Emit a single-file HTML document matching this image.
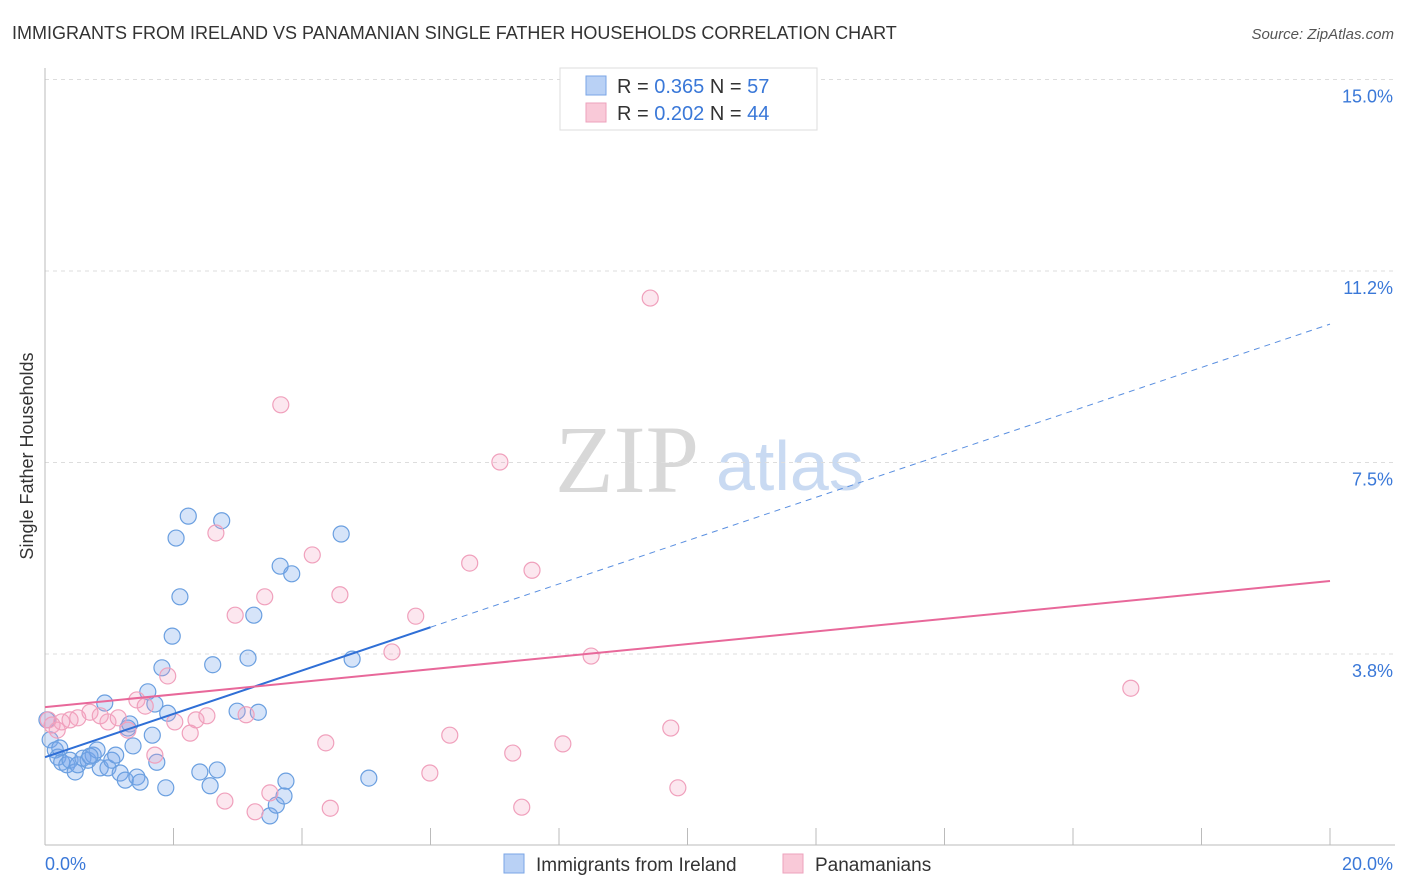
<!DOCTYPE html>
<html><head><meta charset="utf-8"><style>
body{margin:0;background:#fff;font-family:"Liberation Sans",sans-serif;}
svg{display:block}
</style></head><body>
<svg id="chart" width="1406" height="892">
<text x="12" y="39" font-size="18" fill="#333">IMMIGRANTS FROM IRELAND VS PANAMANIAN SINGLE FATHER HOUSEHOLDS CORRELATION CHART</text>
<text x="1394" y="39" font-size="15" fill="#555" font-style="italic" text-anchor="end">Source: ZipAtlas.com</text>
<text x="33" y="456" font-size="18" fill="#333" text-anchor="middle" transform="rotate(-90 33 456)">Single Father Households</text>
<text x="555" y="492" font-size="96" fill="#d8d8d8" font-family="Liberation Serif,serif">ZIP</text>
<text x="716" y="490" font-size="70" fill="#c9daf2">atlas</text>
<g id="grid"></g><g id="axes"></g><g id="pts"></g><g id="lines"></g>
<g>
<rect x="560" y="68" width="257" height="62" fill="#fff" stroke="#ddd"/>
<rect x="586" y="76" width="20" height="19" fill="#b9d1f5" stroke="#7aa5e6"/>
<text x="617" y="93" font-size="20" fill="#333">R = <tspan fill="#3a78d8">0.365</tspan>   N = <tspan fill="#3a78d8">57</tspan></text>
<rect x="586" y="103" width="20" height="19" fill="#f9c9d8" stroke="#eda2bc"/>
<text x="617" y="120" font-size="20" fill="#333">R = <tspan fill="#3a78d8">0.202</tspan>   N = <tspan fill="#3a78d8">44</tspan></text>
</g>
<g>
<rect x="504" y="854" width="20" height="19" fill="#b9d1f5" stroke="#7aa5e6"/>
<text x="536" y="871" font-size="19" fill="#333">Immigrants from Ireland</text>
<rect x="783" y="854" width="20" height="19" fill="#f9c9d8" stroke="#eda2bc"/>
<text x="815" y="871" font-size="19" fill="#333">Panamanians</text>
</g>
</svg>
<script>
const yTicks=[3.75,7.5,11.25,15];
const yTickLabels=["3.8%","7.5%","11.2%","15.0%"];
const xTickLabels=["0.0%","20.0%"];
const blueX=[.08,.16,.20,.26,.34,.39,.47,.51,.59,.67,.75,.81,.86,.93,.98,1.04,1.10,1.17,1.25,1.29,1.37,1.43,1.48,1.60,1.67,1.71,1.74,1.82,1.88,1.91,1.98,2.04,2.10,2.23,2.41,2.57,2.61,2.68,2.75,2.99,3.16,3.25,3.32,3.50,3.60,3.66,3.72,3.75,3.84,4.61,4.78,5.04,.03,.23,.70,1.32];
const blueY=[2.07,1.87,1.73,1.63,1.58,1.67,1.44,1.58,1.71,1.67,1.77,1.87,1.52,2.79,1.52,1.67,1.77,1.42,1.28,2.30,1.95,1.34,1.24,3.01,2.16,2.77,1.63,3.48,1.13,2.59,4.10,6.02,4.87,6.45,1.44,1.17,3.54,1.48,6.36,2.63,3.67,4.51,2.61,0.58,0.79,5.47,0.97,1.26,5.32,6.10,3.65,1.32,2.46,1.91,1.75,2.38];
const pinkX=[.05,.11,.19,.26,.39,.51,.70,.86,.98,1.14,1.29,1.43,1.56,1.71,1.91,2.02,2.26,2.35,2.52,2.66,2.80,2.96,3.13,3.27,3.42,3.50,3.67,4.16,4.37,4.44,4.59,5.40,5.77,5.99,6.30,6.61,7.08,7.28,7.42,7.58,8.06,8.50,9.42,9.74,9.85,16.90];
const pinkY=[2.46,2.36,2.26,2.42,2.46,2.50,2.61,2.54,2.42,2.50,2.26,2.85,2.73,1.77,3.32,2.42,2.20,2.46,2.54,6.12,0.87,4.51,2.56,0.66,4.87,1.03,8.63,5.69,2.01,0.73,4.91,3.79,4.49,1.42,2.16,5.53,7.51,1.81,0.75,5.39,1.99,3.71,10.72,2.30,1.13,3.08];
const blueTrend=[1.73,10.21]; const blueSolidEnd=6.0;
const pinkTrend=[2.71,5.18];
const NS="http://www.w3.org/2000/svg";
const X=v=>45+v/20*1285, Y=v=>845.5-v/3.75*191.5;
function mk(g,t,a){const e=document.createElementNS(NS,t);for(const k in a)e.setAttribute(k,a[k]);document.getElementById(g).appendChild(e);return e;}
yTicks.forEach((t,i)=>{
 let l=mk('grid','line',{x1:45,x2:1395,y1:Y(t),y2:Y(t),stroke:'#ddd','stroke-dasharray':'4,4'});
 
 
 let tx=mk('grid','text',{x:1393,y:Y(t)+23,'font-size':18,fill:'#3a78d8','text-anchor':'end'});tx.textContent=yTickLabels[i];
 
 
});
mk('axes','line',{x1:45,x2:45,y1:68,y2:845,stroke:'#bbb'});
mk('axes','line',{x1:45,x2:1395,y1:845,y2:845,stroke:'#bbb'});
for(let i=1;i<=10;i++){let l=mk('axes','line',{x1:X(i*2),x2:X(i*2),y1:828,y2:845,stroke:'#bbb'});
 
 }
let t0=mk('axes','text',{x:45,y:870,'font-size':18,fill:'#3a78d8'});t0.textContent=xTickLabels[0];


let t1=mk('axes','text',{x:1393,y:870,'font-size':18,fill:'#3a78d8','text-anchor':'end'});t1.textContent=xTickLabels[1];


blueX.forEach((x,i)=>{let c=mk('pts','circle',{cx:X(x),cy:Y(blueY[i]),r:8,fill:'rgba(120,165,235,0.3)',stroke:'#6a9fe0','stroke-width':1.2});
 
 });
pinkX.forEach((x,i)=>{let c=mk('pts','circle',{cx:X(x),cy:Y(pinkY[i]),r:8,fill:'rgba(245,160,190,0.25)',stroke:'#f0a0bc','stroke-width':1.2});
 
 });
const bAt=x=>blueTrend[0]+(blueTrend[1]-blueTrend[0])*x/20;
let b1=mk('lines','line',{x1:X(0),y1:Y(bAt(0)),x2:X(blueSolidEnd),y2:Y(bAt(blueSolidEnd)),stroke:'#2f6fd6','stroke-width':2});


let b2=mk('lines','line',{x1:X(blueSolidEnd),y1:Y(bAt(blueSolidEnd)),x2:X(20),y2:Y(bAt(20)),stroke:'#5a8fe0','stroke-width':1,'stroke-dasharray':'6,5'});


let p1=mk('lines','line',{x1:X(0),y1:Y(pinkTrend[0]),x2:X(20),y2:Y(pinkTrend[1]),stroke:'#e8689a','stroke-width':2});


</script>
</body></html>
